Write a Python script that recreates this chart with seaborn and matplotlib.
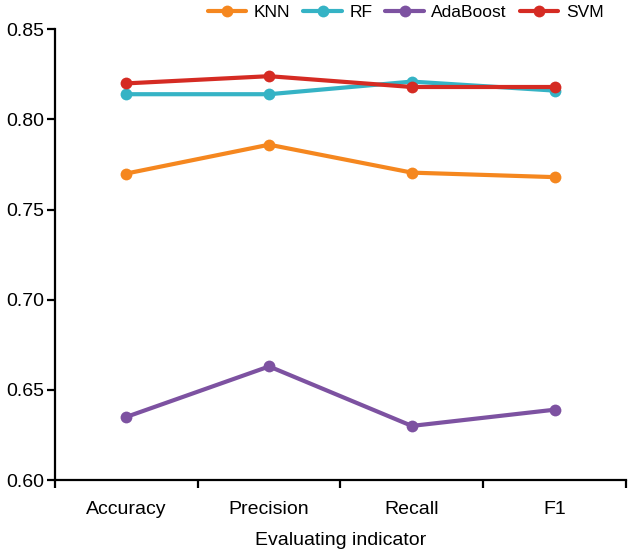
import numpy as np
import pandas as pd
import matplotlib
matplotlib.use("Agg")
import matplotlib.pyplot as plt
import seaborn as sns

# --- données ---
indicators = ["Accuracy", "Precision", "Recall", "F1"]
models = ["KNN", "RF", "AdaBoost", "SVM"]
knn = [0.770, 0.786, 0.7705, 0.768]
rf = [0.814, 0.814, 0.821, 0.816]
adaboost = [0.635, 0.663, 0.630, 0.639]
svm = [0.820, 0.824, 0.818, 0.818]
colors = ["#F5871F", "#35B3C5", "#7D52A1", "#D52B23"]

sns.set_style("ticks")
plt.rcParams["font.family"] = ["Liberation Sans", "DejaVu Sans"]
plt.rcParams.update({
    "axes.linewidth": 1.6,
    "axes.edgecolor": "black",
    "xtick.color": "black",
    "ytick.color": "black",
    "text.color": "black",
    "axes.labelcolor": "black",
    "xtick.major.width": 1.6,
    "ytick.major.width": 1.6,
    "xtick.labelsize": 14,
    "ytick.labelsize": 14,
    "axes.labelsize": 14,
})

df = pd.DataFrame({
    "indicator": indicators * 4,
    "model": np.repeat(models, len(indicators)),
    "value": knn + rf + adaboost + svm,
})

fig = plt.figure(figsize=(6.32, 5.53), dpi=100)
ax = fig.add_axes([0.087, 0.132, 0.9035, 0.815])

sns.lineplot(
    data=df, x="indicator", y="value", hue="model",
    hue_order=models, palette=colors, marker="o",
    linewidth=3.0, markersize=8.5, markeredgewidth=0,
    sort=False, ax=ax,
)

ax.set_xlim(-0.5, 3.5)
ax.set_ylim(0.60, 0.85)
ax.set_yticks([0.60, 0.65, 0.70, 0.75, 0.80, 0.85])
ax.set_yticklabels([f"{v:.2f}" for v in [0.60, 0.65, 0.70, 0.75, 0.80, 0.85]])
ax.tick_params(axis="y", length=6, pad=2)

# ticks aux frontières, libellés au centre
ax.set_xticks([-0.5, 0.5, 1.5, 2.5, 3.5])
ax.set_xticklabels([""] * 5)
ax.set_xticks(range(len(indicators)), minor=True)
ax.set_xticklabels(indicators, minor=True)
ax.tick_params(axis="x", which="major", length=6)
ax.tick_params(axis="x", which="minor", length=0, pad=15)

ax.set_xlabel("Evaluating indicator", labelpad=10)
ax.set_ylabel("")
sns.despine(ax=ax)

handles, labels = ax.get_legend_handles_labels()
ax.get_legend().remove()
fig.legend(
    handles, labels, loc="center", bbox_to_anchor=(0.642, 0.978),
    ncol=4, frameon=False, fontsize=12.5, handlelength=2.2,
    handletextpad=0.45, columnspacing=0.75,
)

fig.savefig("out.png", dpi=100)
